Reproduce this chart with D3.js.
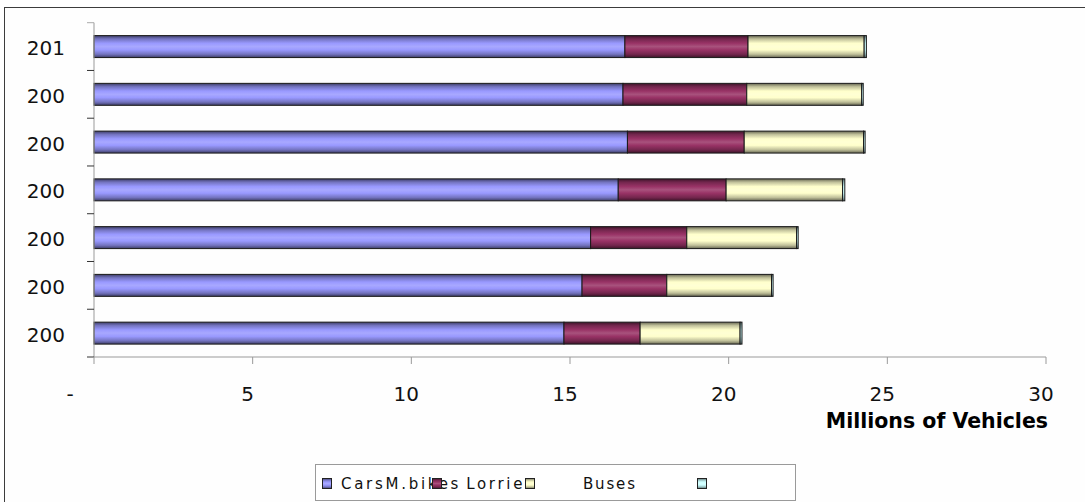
<!DOCTYPE html>
<html><head><meta charset="utf-8">
<script src="https://cdn.jsdelivr.net/npm/d3@7"></script>
<style>
html,body{margin:0;padding:0;background:#fff;}
svg{display:block;font-family:"DejaVu Sans",Verdana,sans-serif;}
</style></head>
<body>
<svg id="c" width="1085" height="502"></svg>
<script>
// ---- data (millions of vehicles) ----
const years = [2010, 2009, 2008, 2007, 2006, 2005, 2004];
const yearLabels = ["201", "200", "200", "200", "200", "200", "200"];
const seriesNames = ["Cars", "M.bikes", "Lorries", "Buses"];
const cars    = [16.73, 16.67, 16.81, 16.52, 15.65, 15.38, 14.81];
const mbikes  = [3.88, 3.90, 3.68, 3.40, 3.03, 2.67, 2.40];
const lorries = [3.66, 3.62, 3.76, 3.67, 3.46, 3.30, 3.15];
const buses   = [0.07, 0.05, 0.05, 0.07, 0.05, 0.05, 0.06];
const xTickValues = [0, 5, 10, 15, 20, 25, 30];
const xTickLabels = ["-", "5", "10", "15", "20", "25", "30"];
const colors = ["#9999FF", "#993366", "#FFFFCC", "#CCFFFF"];

(function(){
const seriesVals = [cars, mbikes, lorries, buses];
const rows = years.map((yy, i) => {
  const r = {year: String(yy)};
  seriesNames.forEach((s, k) => r[s] = seriesVals[k][i]);
  return r;
});

const svg = d3.select("#c");
const W = 1085, H = 502;

svg.append("rect").attr("x",0).attr("y",0).attr("width",W).attr("height",H).attr("fill","#fff");
svg.append("rect").attr("x",4.5).attr("y",7.5).attr("width",W+20).attr("height",H+20)
  .attr("fill","#fefefe").attr("stroke","#3c3c3c").attr("stroke-width",1);

const pL = 94, pR = 1046, pT = 22.7, pB = 357;
const x = d3.scaleLinear().domain([0, 30]).range([pL, pR]);
const y = d3.scaleBand().domain(years.map(String)).range([pT, pB]).paddingInner(0.54).paddingOuter(0.27);

const defs = svg.append("defs");
colors.forEach((c, i) => {
  const g = defs.append("linearGradient").attr("id","g"+i).attr("x1",0).attr("x2",0).attr("y1",0).attr("y2",1);
  const dark = d3.interpolateRgb(c, "#000")(0.6);
  const mid = d3.interpolateRgb(c, "#000")(0.25);
  const light = d3.interpolateRgb(c, "#fff")(0.15);
  [[0,dark],[0.15,mid],[0.35,c],[0.5,light],[0.65,c],[0.85,mid],[1,dark]].forEach(([o,col]) =>
    g.append("stop").attr("offset",o).attr("stop-color",col));
});

const stack = d3.stack().keys(seriesNames)(rows);
svg.append("g").selectAll("g").data(stack).join("g")
  .attr("fill", (d, i) => "url(#g"+i+")")
  .selectAll("rect").data(d => d).join("rect")
  .attr("x", d => x(d[0]))
  .attr("y", d => y(d.data.year))
  .attr("width", d => Math.max(0.5, x(d[1]) - x(d[0])))
  .attr("height", y.bandwidth())
  .attr("stroke", "#1a1a1a").attr("stroke-width", 1);

const axisColor = "#9a9a9a";
const gy = svg.append("g");
gy.append("line").attr("x1",pL).attr("x2",pL).attr("y1",pT).attr("y2",pB).attr("stroke",axisColor);
const step = (pB - pT) / years.length;
d3.range(years.length + 1).forEach(i => {
  gy.append("line").attr("x1",pL-7).attr("x2",pL).attr("y1",pT + i*step).attr("y2",pT + i*step)
    .attr("stroke", i===0 ? "#aaa" : "#333");
});
gy.selectAll("text").data(years).join("text")
  .attr("x", 65).attr("y", (d) => y(String(d)) + y.bandwidth()/2 + 3)
  .attr("text-anchor","end").attr("dominant-baseline","middle")
  .attr("font-size",20).attr("fill","#111")
  .text((d, i) => yearLabels[i]);

const gx = svg.append("g").attr("transform",`translate(0,${pB})`);
gx.append("line").attr("x1",pL).attr("x2",pR).attr("stroke",axisColor);
xTickValues.forEach(v => {
  gx.append("line").attr("x1",x(v)).attr("x2",x(v)).attr("y1",0).attr("y2",7).attr("stroke",axisColor);
});
gx.selectAll("text").data(xTickValues).join("text")
  .attr("x", (d, i) => x(d) + (i===0 ? -24 : -5)).attr("y", 44)
  .attr("text-anchor","middle").attr("font-size",20).attr("fill","#111")
  .text((d, i) => xTickLabels[i]);

svg.append("text").attr("x",1048).attr("y",428).attr("text-anchor","end")
  .attr("font-size",20.5).attr("font-weight","bold").attr("fill","#000")
  .text("Millions of Vehicles");

const lg = svg.append("g");
lg.append("rect").attr("x",315.5).attr("y",464.5).attr("width",480).attr("height",36)
  .attr("fill","#fff").attr("stroke","#9a9a9a");
const swX = [322, 432, 525, 697];
const t1 = lg.append("text").attr("x",341).attr("y",489).attr("font-size",15).attr("fill","#111")
  .attr("textLength",192).attr("lengthAdjust","spacing");
seriesNames.slice(0,3).forEach((s, i) => {
  t1.append("tspan").attr("dx", i===2 ? 5 : 0).text(s);
});
lg.append("text").attr("x",583).attr("y",489).attr("font-size",15).attr("fill","#111")
  .attr("textLength",52).attr("lengthAdjust","spacing").text(seriesNames[3]);
seriesNames.forEach((s, i) => {
  lg.append("rect").attr("x",swX[i]+0.5).attr("y",478.5).attr("width",9).attr("height",10)
    .attr("fill","url(#g"+i+")").attr("stroke","#222");
});
})();
</script>
</body></html>
